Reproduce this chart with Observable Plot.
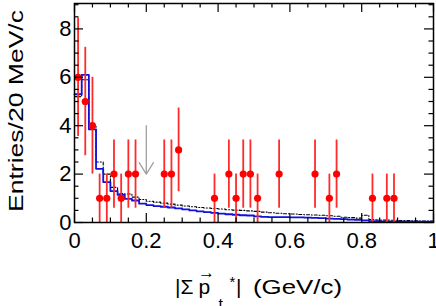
<!DOCTYPE html>
<html><head><meta charset="utf-8">
<script src="https://cdn.jsdelivr.net/npm/d3@7"></script>
<script src="https://cdn.jsdelivr.net/npm/@observablehq/plot@0.6"></script>
<style>body{margin:0;background:#fff}</style>
</head><body><div id="chart"></div>
<script>
// Data points (bin centres, counts, symmetric errors)
const dataX = [0.01,0.03,0.05,0.07,0.09,0.11,0.13,0.15,0.17,0.25,0.27,0.29,0.39,0.43,0.45,0.47,0.49,0.51,0.57,0.67,0.71,0.73,0.83,0.87,0.89];
const dataN = [6,5,4,1,1,2,1,2,2,2,2,3,1,2,1,2,2,1,2,2,1,2,1,1,1];
const dataErr = [2.45,2.24,2,1,1,1.41,1,1.41,1.41,1.41,1.41,1.73,1,1.41,1,1.41,1.41,1,1.41,1.41,1,1.41,1,1,1];

// Histogram bin low edges (20 MeV/c bins)
const binLo = [0.00,0.02,0.04,0.06,0.08,0.10,0.12,0.14,0.16,0.18,0.20,0.22,0.24,0.26,0.28,0.30,0.32,0.34,0.36,0.38,0.40,0.42,0.44,0.46,0.48,0.50,0.52,0.54,0.56,0.58,0.60,0.62,0.64,0.66,0.68,0.70,0.72,0.74,0.76,0.78,0.80,0.82,0.84,0.86,0.88,0.90,0.92,0.94,0.96,0.98];
// Blue solid histogram
const blueH = [5.3,6.1,3.85,2.22,1.67,1.3,1.14,0.98,0.91,0.78,0.72,0.68,0.65,0.62,0.58,0.54,0.5,0.46,0.43,0.40,0.37,0.34,0.32,0.30,0.29,0.25,0.23,0.22,0.22,0.22,0.21,0.21,0.20,0.19,0.18,0.16,0.15,0.14,0.12,0.11,0.09,0.06,0.05,0.04,0.04,0.04,0.04,0.04,0.03,0.03];
// Black dash-dotted histogram
const dashH = [5.2,5.9,4.0,2.5,2.0,1.45,1.2,1.18,1.05,0.95,0.88,0.84,0.8,0.76,0.72,0.68,0.65,0.62,0.6,0.58,0.56,0.53,0.51,0.5,0.48,0.46,0.43,0.40,0.38,0.36,0.35,0.33,0.32,0.31,0.30,0.28,0.26,0.22,0.20,0.18,0.30,0.12,0.10,0.10,0.09,0.08,0.08,0.07,0.06,0.06];

const xMajor = [0,0.2,0.4,0.6,0.8,1];
const xMinor = [0.05,0.1,0.15,0.25,0.3,0.35,0.45,0.5,0.55,0.65,0.7,0.75,0.85,0.9,0.95];
const yMajor = [0,2,4,6,8];
const yMinor = [0.5,1,1.5,2.5,3,3.5,4.5,5,5.5,6.5,7,7.5,8.5,9];
const arrowX = [0.2], arrowFrom = [4.0], arrowTo = [2.0];

const pts = dataX.map((x,i)=>({x, y:dataN[i], lo:dataN[i]-dataErr[i], hi:dataN[i]+dataErr[i]}));
const stepData = h => binLo.map((x,i)=>({x, y:h[i]})).concat([{x:1, y:h[h.length-1]}]);
const arrows = arrowX.map((x,i)=>({x, y1:arrowFrom[i], y2:arrowTo[i]}));

const W=436, H=306, mL=74, mR=3, mT=3, mB=84;
const pw = W-mL-mR, ph = H-mT-mB;
const TL=9, tl=4.5;

const plot = Plot.plot({
  width: W, height: H,
  marginLeft: mL, marginRight: mR, marginTop: mT, marginBottom: mB,
  style: {fontFamily: "Liberation Sans, Arial, sans-serif", fontSize: "22px", background: "white", color: "black"},
  x: {domain: [0,1]},
  y: {domain: [0,9.05]},
  marks: [
    Plot.line(stepData(dashH), {x:"x", y:"y", curve:"step-after", stroke:"black", strokeWidth:1.1, strokeDasharray:"3,2,1,2"}),
    Plot.line(stepData(blueH), {x:"x", y:"y", curve:"step-after", stroke:"#1010e0", strokeWidth:1.8}),
    Plot.ruleX(pts, {x:"x", y1:"lo", y2:"hi", stroke:"#ff2a2a", strokeWidth:1.8}),
    Plot.dot(pts, {x:"x", y:"y", r:3.6, fill:"#ff0000", stroke:"none"}),
    Plot.arrow(arrows, {x1:"x", x2:"x", y1:"y1", y2:"y2", stroke:"#a0a0a0", strokeWidth:1.3, headLength:15.5, headAngle:64}),
    Plot.frame({stroke:"black", strokeWidth:1.5}),
    Plot.ruleX(xMajor, {x:d=>d, insetTop: ph-TL, stroke:"black", strokeWidth:1.2}),
    Plot.ruleX(xMinor, {x:d=>d, insetTop: ph-tl, stroke:"black", strokeWidth:1.2}),
    Plot.ruleX(xMajor, {x:d=>d, insetBottom: ph-TL, stroke:"black", strokeWidth:1.2}),
    Plot.ruleX(xMinor, {x:d=>d, insetBottom: ph-tl, stroke:"black", strokeWidth:1.2}),
    Plot.ruleY(yMajor, {y:d=>d, insetRight: pw-TL, stroke:"black", strokeWidth:1.2}),
    Plot.ruleY(yMinor, {y:d=>d, insetRight: pw-tl, stroke:"black", strokeWidth:1.2}),
    Plot.ruleY(yMajor, {y:d=>d, insetLeft: pw-TL, stroke:"black", strokeWidth:1.2}),
    Plot.ruleY(yMinor, {y:d=>d, insetLeft: pw-tl, stroke:"black", strokeWidth:1.2}),
    Plot.axisX(xMajor, {tickSize:0, tickPadding:10, label:null, tickFormat: d=>String(d), fontSize:22}),
    Plot.axisY(yMajor, {tickSize:0, tickPadding:3, label:null, tickFormat: d=>String(d), fontSize:22})
  ]
});
document.getElementById("chart").appendChild(plot);

const svg = d3.select(plot);
// Y title
svg.append("text")
  .attr("transform", "translate(23,111) rotate(-90)")
  .attr("text-anchor", "middle")
  .attr("font-size", 21)
  .attr("textLength", 202).attr("lengthAdjust", "spacingAndGlyphs")
  .attr("fill", "black")
  .text("Entries/20 MeV/c");
// X title
const xt = svg.append("g").attr("fill", "black").attr("font-size", 21).attr("text-anchor", "start");
xt.append("text").attr("x", 175).attr("y", 294).text("|Σ");
xt.append("text").attr("x", 198.5).attr("y", 294).text("p");
xt.append("text").attr("x", 198).attr("y", 278).attr("font-size", 17).attr("textLength", 17).attr("lengthAdjust","spacingAndGlyphs").text("→");
xt.append("text").attr("x", 218.5).attr("y", 310).attr("font-size", 16).text("t");
xt.append("text").attr("x", 229.5).attr("y", 287).attr("font-size", 15).text("*");
xt.append("text").attr("x", 236).attr("y", 294).text("|");
xt.append("text").attr("x", 253).attr("y", 294).attr("textLength", 89).attr("lengthAdjust","spacingAndGlyphs").text("(GeV/c)");
</script>
</body></html>
